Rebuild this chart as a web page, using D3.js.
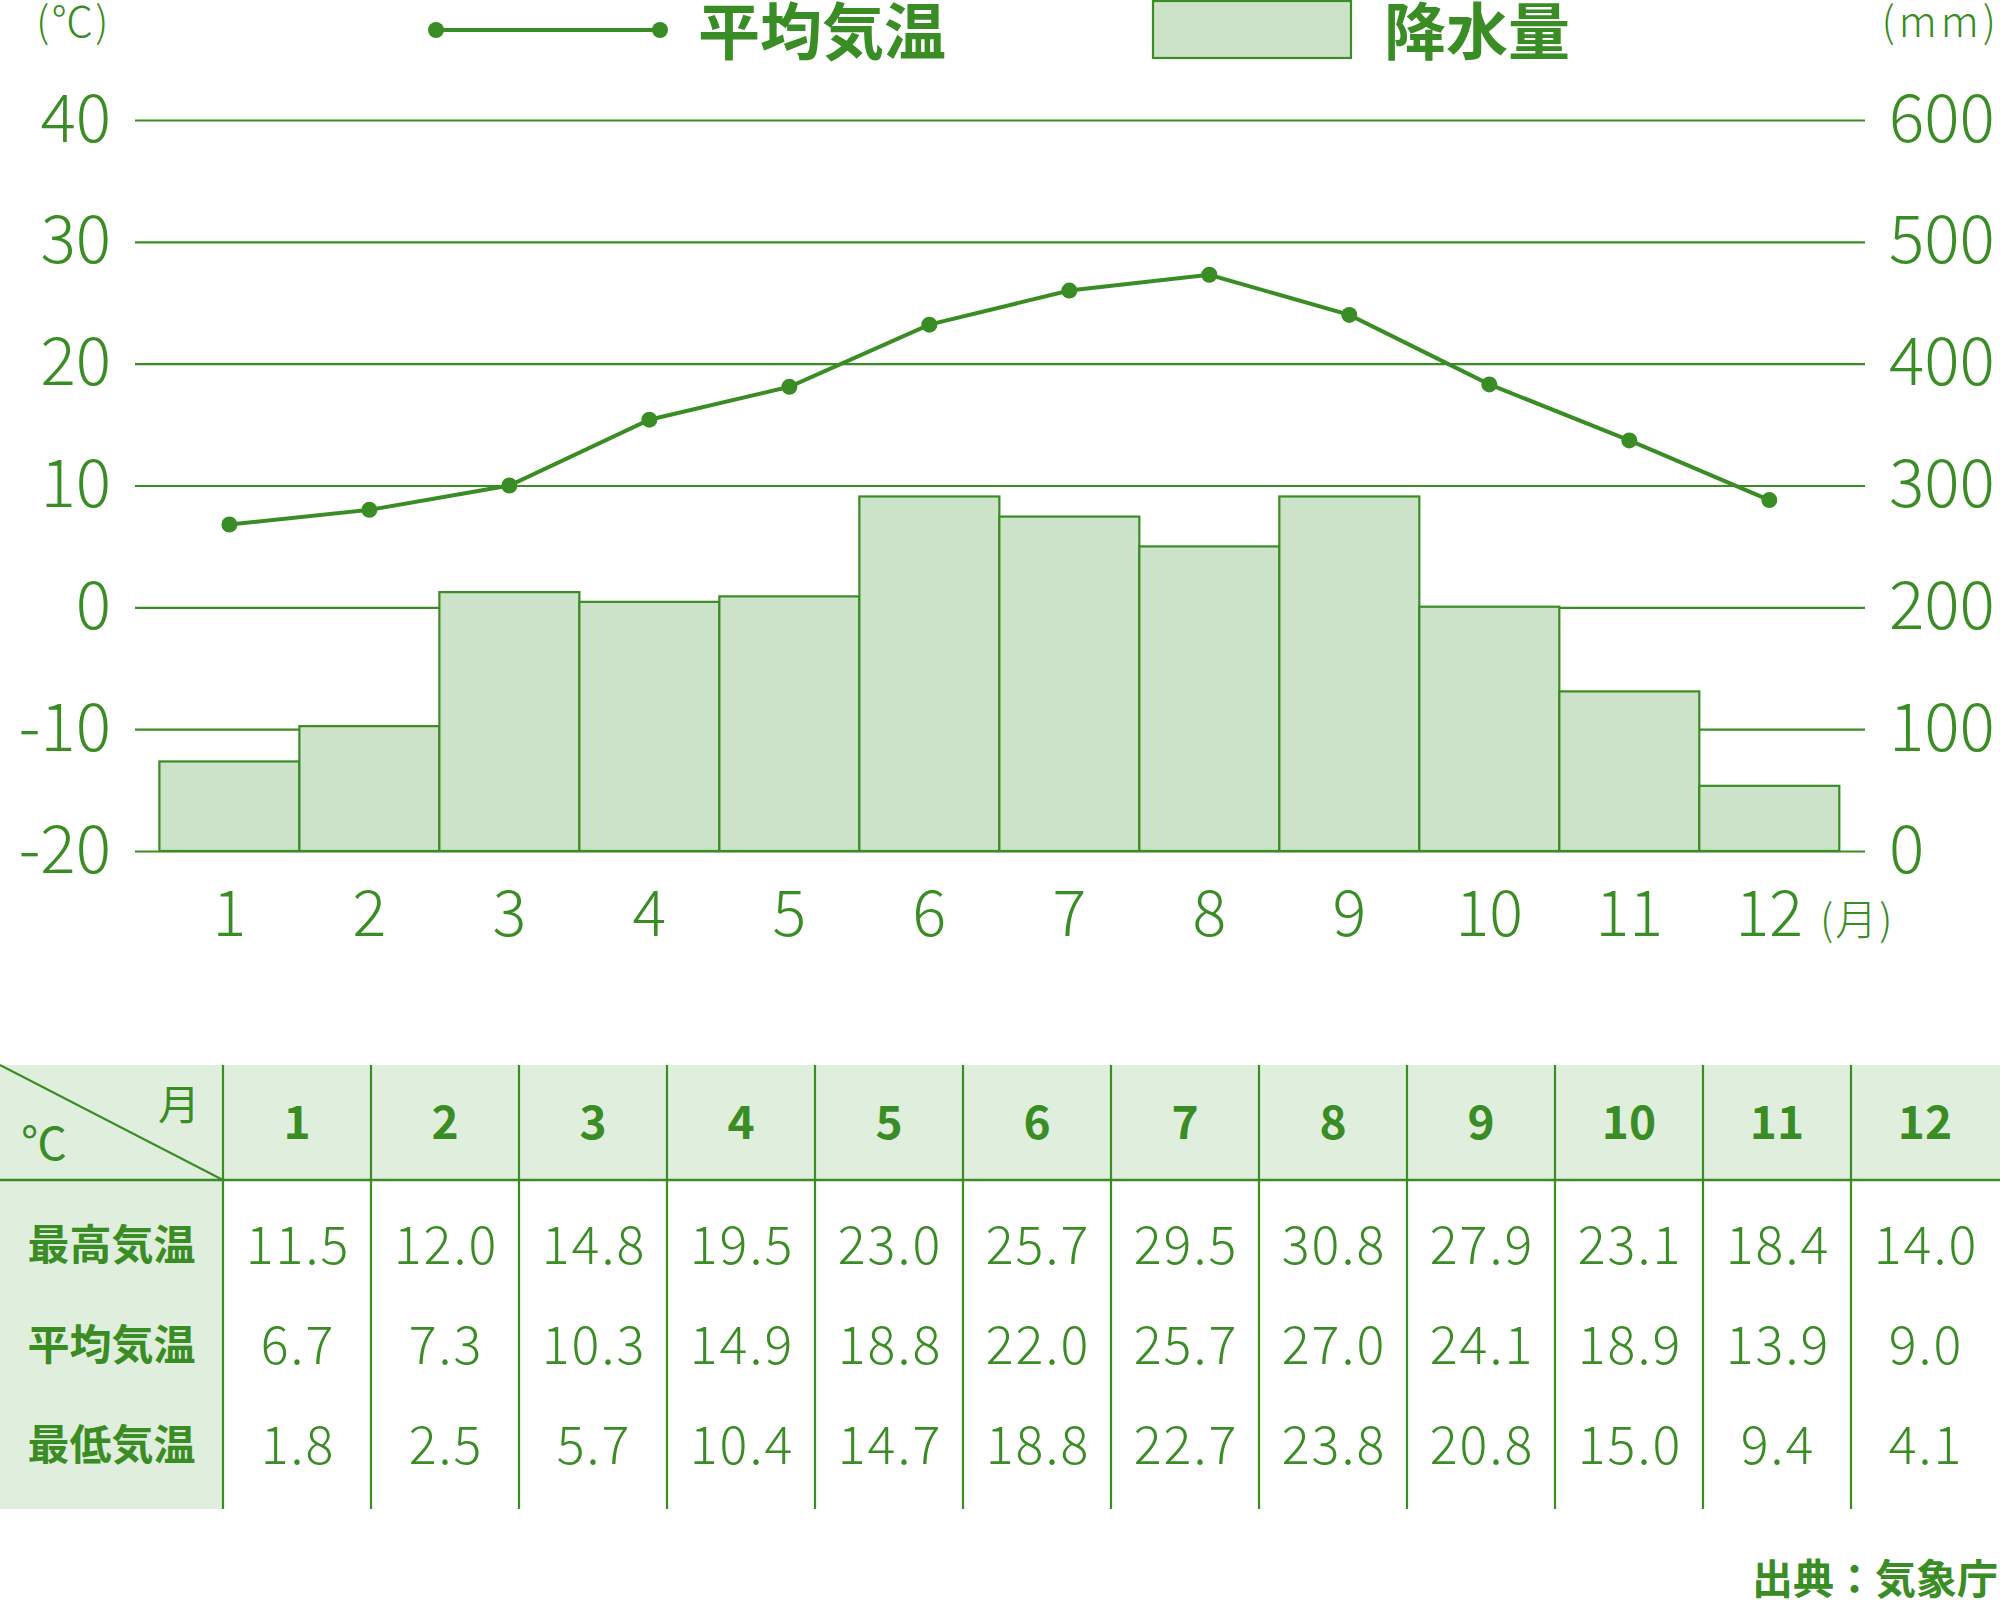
<!DOCTYPE html>
<html>
<head>
<meta charset="utf-8">
<script src="https://cdn.jsdelivr.net/npm/d3@7"></script>
<style>
  html, body { margin: 0; padding: 0; background: #fff; }
  svg text { font-family: "Noto Sans CJK JP", "Noto Sans", sans-serif; fill: #3a8c24; }
</style>
</head>
<body>
<svg id="chart" width="2000" height="1600"></svg>
<script>
// data
var months = [1, 2, 3, 4, 5, 6, 7, 8, 9, 10, 11, 12];
var avgTemp = [6.7, 7.3, 10.3, 14.9, 18.8, 22.0, 25.7, 27.0, 24.1, 18.9, 13.9, 9.0];
var maxTemp = [11.5, 12.0, 14.8, 19.5, 23.0, 25.7, 29.5, 30.8, 27.9, 23.1, 18.4, 14.0];
var minTemp = [1.8, 2.5, 5.7, 10.4, 14.7, 18.8, 22.7, 23.8, 20.8, 15.0, 9.4, 4.1];
// the plotted line points (as drawn, slightly off from the table)
var linePoints = [6.8, 8.0, 10.0, 15.4, 18.1, 23.2, 26.0, 27.3, 24.0, 18.3, 13.7, 8.8];
var precip = [73.5, 102.5, 212.5, 204.5, 209.0, 291.0, 274.5, 250.0, 291.0, 200.5, 131.0, 53.5];
var tempTicks = [-20, -10, 0, 10, 20, 30, 40];
var precipTicks = [0, 100, 200, 300, 400, 500, 600];
var rowLabels = ["最高気温", "平均気温", "最低気温"];

var green = "#3a8c24",
    barFill = "#cce2c9",
    cellFill = "#e0eedd";

var svg = d3.select("#chart");

var x = d3.scaleBand().domain(months).range([159.4, 1839.3]).padding(0);
var yT = d3.scaleLinear().domain([-20, 40]).range([851, 120]);
var yP = d3.scaleLinear().domain([0, 600]).range([851, 120]);

// left axis + grid
var gLeft = svg.append("g")
  .attr("transform", "translate(1865,0)")
  .call(d3.axisLeft(yT).tickValues(tempTicks).tickSize(1730).tickPadding(24)
    .tickFormat(function(d) { return String(d); }));
gLeft.select(".domain").remove();
gLeft.selectAll("line").attr("stroke", green).attr("stroke-width", 2.2);
gLeft.selectAll("text")
  .attr("font-size", 66).attr("font-weight", 300)
  .style("font-family", '"Noto Sans CJK JP", sans-serif').attr("fill", green);

// right axis
var gRight = svg.append("g")
  .attr("transform", "translate(1865,0)")
  .call(d3.axisRight(yP).tickValues(precipTicks).tickSize(0).tickPadding(24));
gRight.select(".domain").remove();
gRight.selectAll("text")
  .attr("font-size", 66).attr("font-weight", 300)
  .style("font-family", '"Noto Sans CJK JP", sans-serif').attr("fill", green);

// bars
svg.append("g").selectAll("rect")
  .data(precip)
  .join("rect")
  .attr("x", function(d, i) { return x(months[i]); })
  .attr("y", function(d) { return yP(d); })
  .attr("width", x.bandwidth())
  .attr("height", function(d) { return yP(0) - yP(d); })
  .attr("fill", barFill)
  .attr("stroke", green)
  .attr("stroke-width", 2.2);

// month axis
var gBottom = svg.append("g")
  .attr("transform", "translate(0,851)")
  .call(d3.axisBottom(x).tickSize(0).tickPadding(40));
gBottom.select(".domain").remove();
gBottom.selectAll("text")
  .attr("font-size", 63).attr("font-weight", 300)
  .attr("dy", "0.71em")
  .style("font-family", '"Noto Sans CJK JP", sans-serif').attr("fill", green);

svg.append("text")
  .attr("x", 1820).attr("y", 935)
  .attr("font-size", 42).attr("font-weight", 300)
  .attr("letter-spacing", 2)
  .text("(月)");

// temperature line
var line = d3.line()
  .x(function(d, i) { return x(months[i]) + x.bandwidth() / 2; })
  .y(function(d) { return yT(d); });

svg.append("path")
  .datum(linePoints)
  .attr("d", line)
  .attr("fill", "none")
  .attr("stroke", green)
  .attr("stroke-width", 4);

svg.append("g").selectAll("circle")
  .data(linePoints)
  .join("circle")
  .attr("cx", function(d, i) { return x(months[i]) + x.bandwidth() / 2; })
  .attr("cy", function(d) { return yT(d); })
  .attr("r", 8)
  .attr("fill", green);

// unit labels
svg.append("text").attr("x", 36).attr("y", 37)
  .attr("font-size", 42).attr("font-weight", 300).attr("letter-spacing", 2).text("(℃)");
svg.append("text").attr("x", 2000).attr("y", 37).attr("text-anchor", "end")
  .attr("font-size", 42).attr("font-weight", 300).attr("letter-spacing", 4).text("(mm)");

// legend
svg.append("line").attr("x1", 436).attr("x2", 660).attr("y1", 30).attr("y2", 30)
  .attr("stroke", green).attr("stroke-width", 4);
[436, 660].forEach(function(cx) {
  svg.append("circle").attr("cx", cx).attr("cy", 30).attr("r", 8).attr("fill", green);
});
svg.append("text").attr("x", 698).attr("y", 55)
  .attr("font-size", 62).attr("font-weight", 700).text("平均気温");
svg.append("rect").attr("x", 1153).attr("y", 1).attr("width", 198).attr("height", 57)
  .attr("fill", barFill).attr("stroke", green).attr("stroke-width", 2.2);
svg.append("text").attr("x", 1384).attr("y", 55)
  .attr("font-size", 62).attr("font-weight", 700).text("降水量");

// table
var tTop = 1065, tHead = 1180, tBottom = 1509, col0 = 223;
var cx = d3.scaleBand().domain(months).range([col0, col0 + 148 * 12]);
var rowY = d3.scalePoint().domain(rowLabels).range([1245, 1445]);

var table = svg.append("g");
table.append("rect").attr("x", 0).attr("y", tTop).attr("width", 2000).attr("height", tHead - tTop)
  .attr("fill", cellFill);
table.append("rect").attr("x", 0).attr("y", tHead).attr("width", col0).attr("height", tBottom - tHead)
  .attr("fill", cellFill);

table.selectAll("line.v")
  .data(months)
  .join("line")
  .attr("class", "v")
  .attr("x1", function(d) { return cx(d); })
  .attr("x2", function(d) { return cx(d); })
  .attr("y1", tTop).attr("y2", tBottom)
  .attr("stroke", green).attr("stroke-width", 2.2);
table.append("line").attr("x1", 0).attr("x2", 2000).attr("y1", tHead).attr("y2", tHead)
  .attr("stroke", green).attr("stroke-width", 2.5);
table.append("line").attr("x1", 0).attr("y1", tTop).attr("x2", col0).attr("y2", tHead)
  .attr("stroke", green).attr("stroke-width", 2);

table.append("text").attr("x", 158).attr("y", 1120).attr("font-size", 42).attr("font-weight", 400).text("月");
table.append("text").attr("x", 21).attr("y", 1160).attr("font-size", 46).attr("font-weight", 400).text("℃");

table.selectAll("text.head")
  .data(months)
  .join("text")
  .attr("class", "head")
  .attr("x", function(d) { return cx(d) + cx.bandwidth() / 2; })
  .attr("y", 1122)
  .attr("dy", "0.36em")
  .attr("text-anchor", "middle")
  .attr("font-size", 46).attr("font-weight", 700)
  .text(function(d) { return d; });

table.selectAll("text.rowlab")
  .data(rowLabels)
  .join("text")
  .attr("class", "rowlab")
  .attr("x", col0 / 2)
  .attr("y", function(d) { return rowY(d); })
  .attr("dy", "0.36em")
  .attr("text-anchor", "middle")
  .attr("font-size", 42).attr("font-weight", 700)
  .text(function(d) { return d; });

[maxTemp, avgTemp, minTemp].forEach(function(vals, r) {
  table.append("g").selectAll("text")
    .data(vals)
    .join("text")
    .attr("x", function(d, i) { return cx(months[i]) + cx.bandwidth() / 2 + 1; })
    .attr("y", rowY(rowLabels[r]))
    .attr("dy", "0.36em")
    .attr("text-anchor", "middle")
    .attr("font-size", 52).attr("font-weight", 300)
    .attr("letter-spacing", 2)
    .text(function(d) { return d.toFixed(1); });
});

svg.append("text").attr("x", 1998).attr("y", 1594).attr("text-anchor", "end")
  .attr("font-size", 41).attr("font-weight", 700).text("出典：気象庁");
</script>
</body>
</html>
